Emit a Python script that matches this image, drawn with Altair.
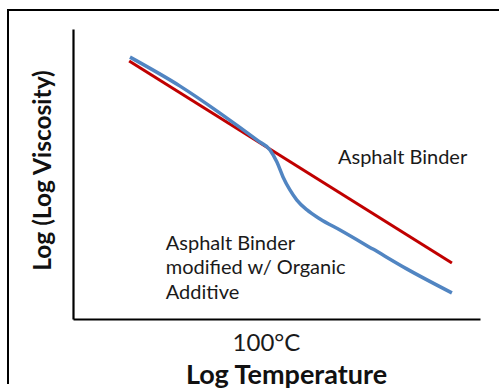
import altair as alt
import pandas as pd

# Data (arbitrary units: x = log temperature, y = log(log viscosity))
red_x = [13.8, 93.1]
red_y = [89.0, 19.3]

blue_x = [14.0, 26.3, 36.1, 45.5, 48.4, 50.1, 51.6, 53.3, 55.0, 57.5, 60.7, 65.6, 73.7, 82.1, 93.1]
blue_y = [90.3, 80.3, 71.0, 61.4, 58.3, 54.1, 49.0, 44.5, 41.0, 37.6, 34.5, 30.7, 24.1, 17.2, 9.0]

label_text = ["Asphalt Binder", "Asphalt Binder\nmodified w/ Organic\nAdditive"]
label_x = [65.1, 22.8]
label_y = [55.5, 25.9]

tick_value = [47.4]
tick_label = ["100°C"]

FONT = "Lato"

red_df = pd.DataFrame({"x": red_x, "y": red_y})
blue_df = pd.DataFrame({"x": blue_x, "y": blue_y, "o": list(range(len(blue_x)))})
lab_df = pd.DataFrame({"t": label_text, "x": label_x, "y": label_y})

xs = alt.Scale(domain=[0, 100], nice=False, zero=False)
ys = alt.Scale(domain=[0, 100], nice=False, zero=False)

x_axis = alt.Axis(
    values=tick_value,
    labelExpr="'" + tick_label[0] + "'",
    ticks=False, tickSize=0, grid=False,
    domainColor="black", domainWidth=2.2,
    labelFont=FONT, labelFontSize=24, labelColor="#1a1a1a",
    labelBaseline="middle", labelPadding=24, labelAlign="center",
    title="Log Temperature", titleFont=FONT, titleFontSize=27, titleFontWeight="bold",
    titleColor="#111", titleX=213, titleY=56, titleAlign="center", titleBaseline="middle",
)
y_axis = alt.Axis(
    labels=False, ticks=False, grid=False,
    domainColor="black", domainWidth=2.2,
    title="Log (Log Viscosity)", titleFont=FONT, titleFontSize=24.5, titleFontWeight="bold",
    titleColor="#111", titleAngle=270, titleX=-30, titleY=141,
    titleAlign="center", titleBaseline="middle",
)

dummy = pd.DataFrame({"a": [0]})
frame_top = alt.Chart(dummy).mark_rect(color="black", strokeWidth=0).encode(
    x=alt.value(-66), x2=alt.value(426), y=alt.value(-20), y2=alt.value(-18)
)
frame_left = alt.Chart(dummy).mark_rect(color="black", strokeWidth=0).encode(
    x=alt.value(-66), x2=alt.value(-64), y=alt.value(-20), y2=alt.value(355)
)

red = alt.Chart(red_df).mark_line(color="#C00000", strokeWidth=3).encode(
    x=alt.X("x:Q", scale=xs, axis=x_axis),
    y=alt.Y("y:Q", scale=ys, axis=y_axis),
)

blue = alt.Chart(blue_df).mark_line(color="#5185C2", strokeWidth=3.5, interpolate="monotone").encode(
    x=alt.X("x:Q", scale=xs),
    y=alt.Y("y:Q", scale=ys),
    order="o:Q",
)

labels = alt.Chart(lab_df).mark_text(
    align="left", baseline="middle", font=FONT, fontSize=20, lineHeight=24.5,
    color="#1a1a1a", lineBreak="\n",
).encode(
    x=alt.X("x:Q", scale=xs),
    y=alt.Y("y:Q", scale=ys),
    text="t:N",
)

chart = alt.layer(frame_top, frame_left, red, blue, labels).properties(
    width=407, height=290,
    autosize=alt.AutoSizeParams(type="none"),
    padding={"left": 73, "top": 29, "right": 21, "bottom": 72},
    background="white",
).configure_view(stroke=None)

chart.save("out.html", embed_options={"renderer": "svg", "actions": False})
